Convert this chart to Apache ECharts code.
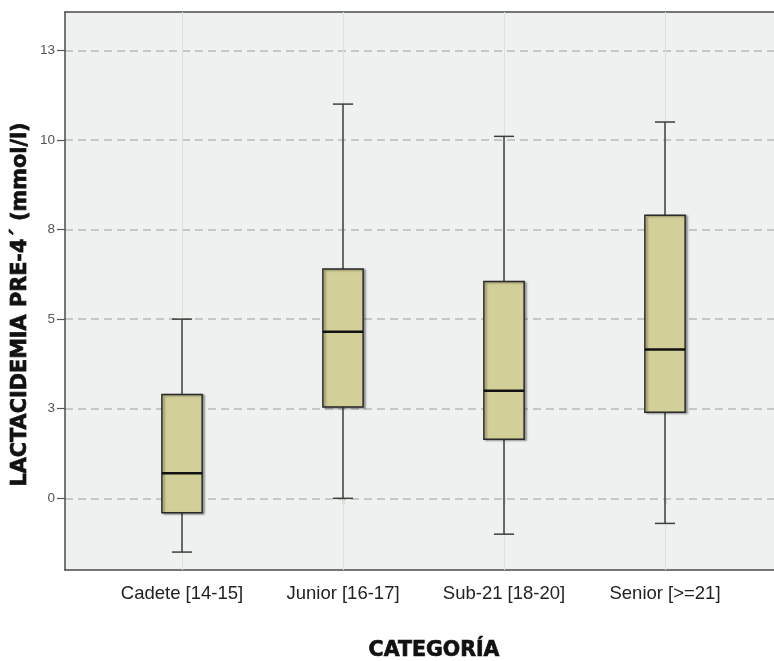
<!DOCTYPE html>
<html>
<head>
<meta charset="utf-8">
<script src="https://cdn.jsdelivr.net/npm/echarts@6/dist/echarts.min.js"></script>
<style>
  html, body { margin: 0; padding: 0; background: #ffffff; }
  #chart { width: 774px; height: 661px; }
</style>
</head>
<body>
<div id="chart"></div>
<script>
// Lactate (mmol/l) by age category: five-number summaries per group
const categories = ['Cadete [14-15]', 'Junior [16-17]', 'Sub-21 [18-20]', 'Senior [>=21]'];
const whiskerLow = [-1.5, 0.0, -1.0, -0.7];
const q1 = [-0.4, 2.55, 1.65, 2.4];
const median = [0.7, 4.65, 3.0, 4.15];
const q3 = [2.9, 6.4, 6.05, 7.9];
const whiskerHigh = [5.0, 11.0, 10.1, 10.5];
const yTicks = [0, 2.5, 5, 7.5, 10, 12.5];

const yMin = -2;
const yMax = 13.57;

const boxData = categories.map((c, i) => [i, whiskerLow[i], q1[i], median[i], q3[i], whiskerHigh[i]]);

const chart = echarts.init(document.getElementById('chart'), null, { renderer: 'canvas' });

const labelFont = 'Liberation Sans, Arial, sans-serif';
const titleFont = 'DejaVu Sans, sans-serif';
const frameLine = { color: '#4a4a4a', width: 1.5 };

function renderBox(params, api) {
  const x = api.value(0);
  const pLow = api.coord([x, api.value(1)]);
  const pQ1 = api.coord([x, api.value(2)]);
  const pMed = api.coord([x, api.value(3)]);
  const pQ3 = api.coord([x, api.value(4)]);
  const pHigh = api.coord([x, api.value(5)]);
  const band = api.size([1, 0])[0];
  const bw = band * 0.25;
  const cap = bw * 0.5;
  const cx = pMed[0];
  const lineStyle = { stroke: '#3b403b', lineWidth: 1.5 };
  return {
    type: 'group',
    children: [
      { type: 'line', shape: { x1: cx, y1: pHigh[1], x2: cx, y2: pQ3[1] }, style: lineStyle },
      { type: 'line', shape: { x1: cx, y1: pQ1[1], x2: cx, y2: pLow[1] }, style: lineStyle },
      { type: 'line', shape: { x1: cx - cap / 2, y1: pHigh[1], x2: cx + cap / 2, y2: pHigh[1] }, style: lineStyle },
      { type: 'line', shape: { x1: cx - cap / 2, y1: pLow[1], x2: cx + cap / 2, y2: pLow[1] }, style: lineStyle },
      {
        type: 'rect',
        shape: { x: cx - bw / 2, y: pQ3[1], width: bw, height: pQ1[1] - pQ3[1] },
        style: {
          fill: '#d3cf98', stroke: '#2a2a2a', lineWidth: 1.5,
          shadowBlur: 2, shadowOffsetX: 2, shadowOffsetY: 1, shadowColor: 'rgba(0,0,0,0.35)'
        }
      },
      { type: 'line', shape: { x1: cx - bw / 2, y1: pMed[1], x2: cx + bw / 2, y2: pMed[1] }, style: { stroke: '#111111', lineWidth: 2.5 } }
    ]
  };
}

const option = {
  backgroundColor: '#ffffff',
  animation: false,
  grid: [
    // plot panel with the value scale; it runs past the right edge of the page
    { left: 65, top: 12, width: 760, height: 558, show: true, backgroundColor: '#eff1f0', borderWidth: 0, containLabel: false },
    // category band area for the boxes
    { left: 101.5, top: 12, width: 644, height: 558, containLabel: false }
  ],
  xAxis: [
    {
      gridIndex: 0, type: 'value', min: 0, max: 1, position: 'bottom',
      axisLine: { show: true, onZero: false, lineStyle: frameLine },
      axisTick: { show: false }, axisLabel: { show: false }, splitLine: { show: false }
    },
    {
      gridIndex: 0, type: 'value', min: 0, max: 1, position: 'top',
      axisLine: { show: true, onZero: false, lineStyle: frameLine },
      axisTick: { show: false }, axisLabel: { show: false }, splitLine: { show: false }
    },
    {
      gridIndex: 1, type: 'category', data: categories, position: 'bottom',
      axisLine: { show: false },
      axisTick: { show: true, alignWithLabel: true, length: 6, lineStyle: { color: '#333333', width: 1.2 } },
      axisLabel: { margin: 14, color: '#222222', fontSize: 18.5, fontFamily: labelFont },
      splitLine: { show: false }
    },
    {
      gridIndex: 1, type: 'category', data: categories, position: 'top',
      axisLine: { show: false },
      axisTick: { show: true, alignWithLabel: true, inside: true, length: 558, lineStyle: { color: '#cdeccd', width: 1 } },
      axisLabel: { show: false },
      splitLine: { show: false }
    }
  ],
  yAxis: [
    {
      gridIndex: 0, type: 'value', min: yMin, max: yMax,
      axisLine: { show: true, onZero: false, lineStyle: frameLine },
      axisTick: { show: true, length: 8, customValues: yTicks, lineStyle: { color: '#555555', width: 1.2 } },
      axisLabel: {
        margin: 10, color: '#555555', fontSize: 13.5, fontFamily: labelFont, customValues: yTicks,
        formatter: v => String(Math.round(v))
      },
      splitLine: { show: true, customValues: yTicks, lineStyle: { color: '#b9b9b9', width: 1.5, type: [8, 5] } }
    },
    { gridIndex: 1, type: 'value', min: yMin, max: yMax, show: false }
  ],
  graphic: [
    {
      type: 'text', x: 20.5, y: 304.5, rotation: Math.PI / 2, z: 10,
      style: {
        text: 'LACTACIDEMIA PRE-4´ (mmol/l)', fill: '#111111',
        stroke: '#111111', lineWidth: 0.7,
        font: 'bold 20.8px ' + titleFont, align: 'center', verticalAlign: 'middle'
      }
    },
    {
      type: 'text', x: 434, y: 651, z: 10,
      style: {
        text: 'CATEGORÍA', fill: '#111111',
        stroke: '#111111', lineWidth: 0.7,
        font: 'bold 20.5px ' + titleFont, align: 'center', verticalAlign: 'middle'
      }
    }
  ],
  series: [
    {
      type: 'custom',
      xAxisIndex: 2, yAxisIndex: 1,
      data: boxData,
      encode: { x: 0, y: [1, 2, 3, 4, 5] },
      renderItem: renderBox,
      z: 5
    }
  ]
};

chart.setOption(option);
</script>
</body>
</html>
